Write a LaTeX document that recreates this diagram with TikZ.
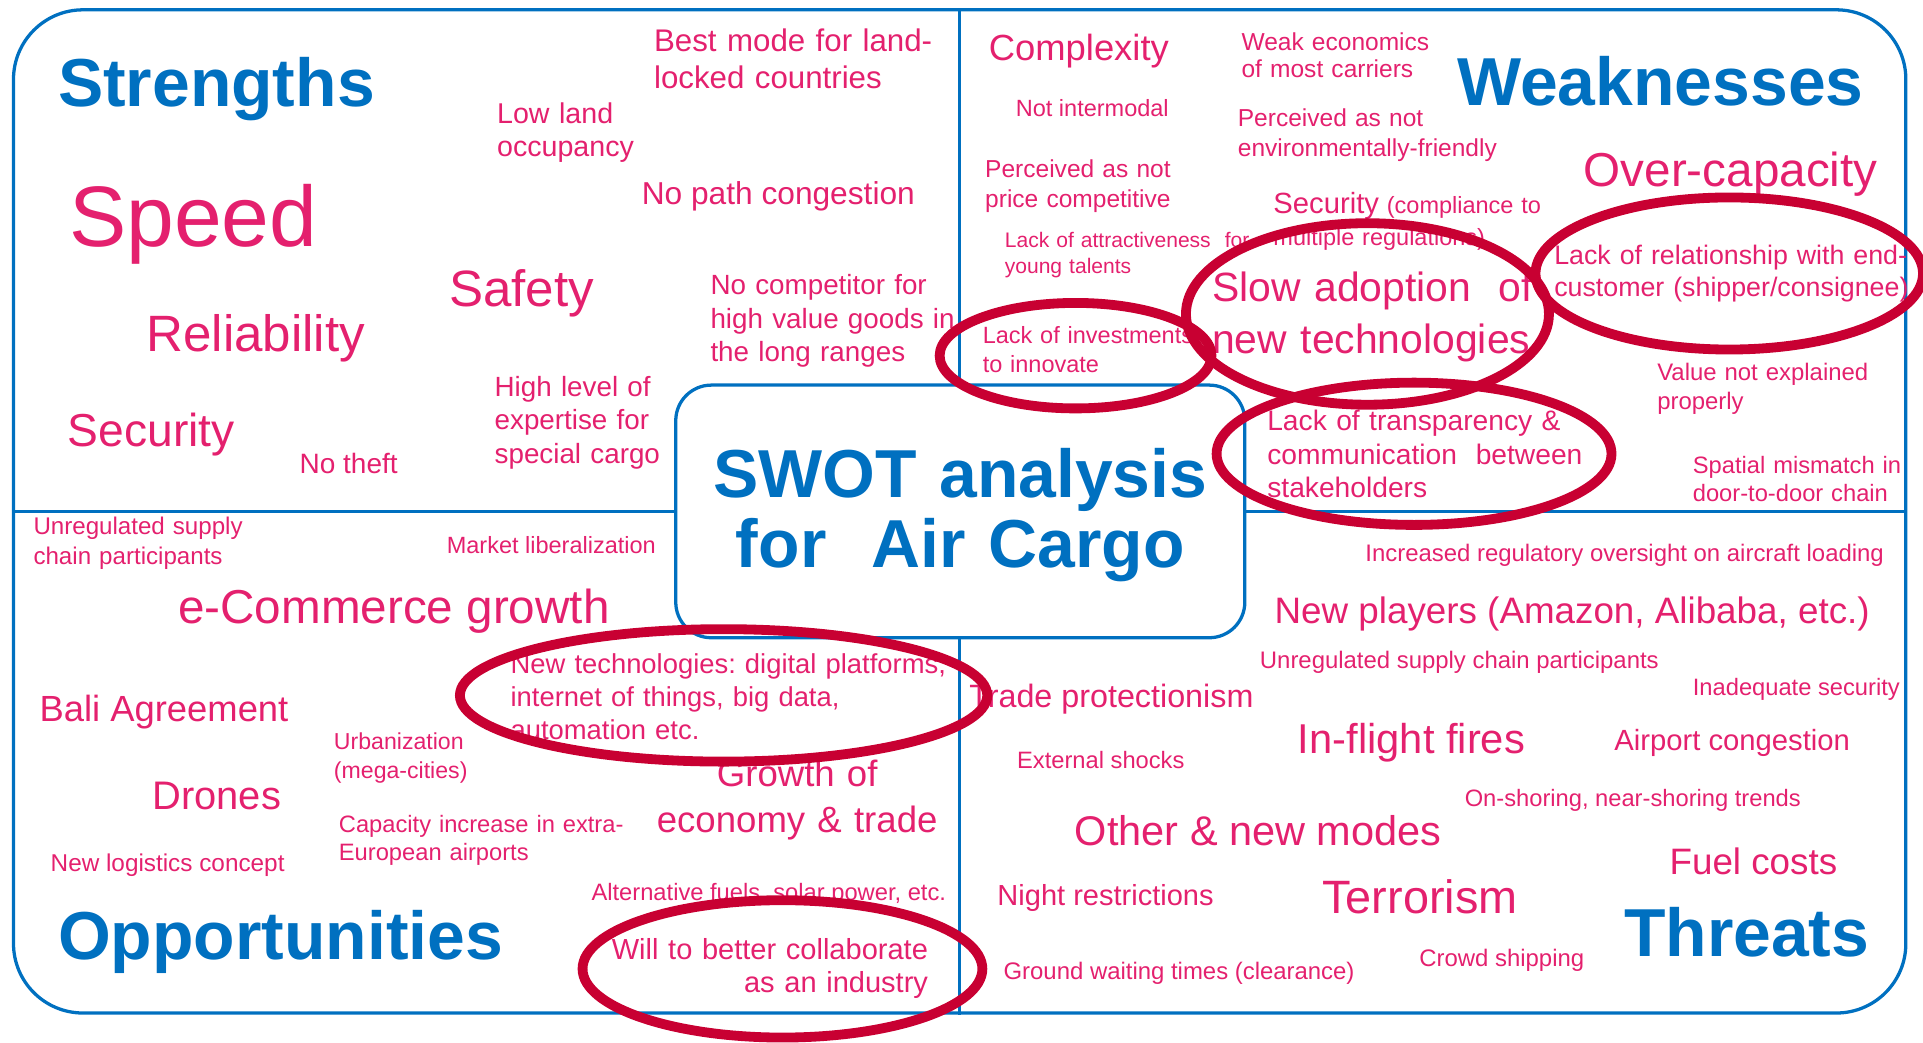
\documentclass[tikz,border=0pt]{standalone}
\usepackage{fontspec}
\setmainfont{Liberation Sans}
\usetikzlibrary{shapes.geometric}
\definecolor{swblue}{RGB}{0,112,192}
\definecolor{swpink}{RGB}{228,32,110}
\definecolor{swred}{RGB}{200,0,50}
\newcommand{\fz}[2]{\fontsize{#1}{#2}\selectfont}
\tikzset{
  pk/.style={text=swpink, inner sep=0pt, anchor=base west},
  pkm/.style={pk, text width=#1, align=left},
  head/.style={text=swblue, inner sep=0pt, anchor=base west, font=\fz{33.2}{36}\bfseries},
  frameline/.style={draw=swblue, line width=1.6pt},
  hl/.style={ellipse, draw=swred, line width=4.8pt, inner sep=0pt},
}
\begin{document}
\begin{tikzpicture}[x=0.6pt,y=-0.6pt]
\useasboundingbox (0,0) rectangle (1568,850);
% frame and centre box
\node (frame) [frameline, rounded corners=34pt, minimum width=925.8pt, minimum height=490.8pt, inner sep=0pt] at (782.5,417) {};
\draw[frameline] (frame.north) -- (frame.south);
\draw[frameline] (frame.west) -- (frame.east);
\node (box) [frameline, fill=white, rounded corners=17.4pt, minimum width=278.4pt, minimum height=123.6pt, inner sep=0pt] at (783,417) {};
\node (title) [text=swblue, inner sep=0pt, anchor=base, text width=280pt, align=center, font=\fz{33.2}{34.2}\bfseries] at (783,406) {SWOT analysis\\for\ \ Air Cargo};

% Strengths
\node (s1) [head] at (47,87) {Strengths};
\node (s2) [pk, font=\fz{42}{46}] at (56,201) {Speed};
\node (s3) [pk, font=\fz{25}{28}] at (119,287) {Reliability};
\node (s4) [pk, font=\fz{22.6}{25}] at (55,364) {Security};
\node (s5) [pk, font=\fz{13.7}{16}] at (244,386) {No theft};
\node (s6) [pk, font=\fz{25}{28}] at (366,250) {Safety};
\node (s7) [pkm=100pt, font=\fz{14}{16.2}] at (405,101) {Low land\\occupancy};
\node (s8) [pkm=160pt, font=\fz{15.3}{18}] at (533,42) {Best mode for land-\\locked countries};
\node (s9) [pk, font=\fz{15.5}{18}] at (523,167) {No path congestion};
\node (s10) [pkm=160pt, font=\fz{13.6}{16.5}] at (579,240) {No competitor for\\high value goods in\\the long ranges};
\node (s11) [pkm=100pt, font=\fz{13.6}{16.5}] at (403,323) {High level of\\expertise for\\special cargo};

% Weaknesses
\node (w1) [head] at (1188,86) {Weaknesses};
\node (w2) [pk, font=\fz{17.8}{20}] at (806,49) {Complexity};
\node (w3) [pkm=120pt, font=\fz{12}{13.2}] at (1012,41) {Weak economics\\of most carriers};
\node (w4) [pk, font=\fz{11.5}{14}] at (828,95) {Not intermodal};
\node (w5) [pkm=140pt, font=\fz{12}{15}] at (1009,103) {Perceived as not\\environmentally-friendly};
\node (w6) [pkm=120pt, font=\fz{12}{14.4}] at (803,145) {Perceived as not\\price competitive};
\node (w7) [pk, font=\fz{23.3}{26}] at (1291,152) {Over-capacity};
\node (w8) [pkm=160pt, font=\fz{11.5}{15.6}] at (1038,174) {{\fz{14.3}{15.6}Security} (compliance to\\multiple regulations)};
\node (w9) [pkm=140pt, font=\fz{10.3}{12.6}] at (819,202) {Lack of attractiveness\ \ for\\young talents};
\node (w10) [pkm=120pt, font=\fz{11.5}{14.4}] at (801,280) {Lack of investments\\to innovate};
\node (w11) [pkm=170pt, font=\fz{20}{25.2}] at (988,246) {Slow adoption\ \ of\\new technologies};
\node (w12) [pkm=190pt, font=\fz{13.1}{15.6}] at (1267,216) {Lack of relationship with end-\\customer (shipper/consignee)};
\node (w13) [pkm=120pt, font=\fz{11.7}{14.4}] at (1351,310) {Value not explained\\properly};
\node (w14) [pkm=170pt, font=\fz{13.8}{16.5}] at (1033,351) {Lack of transparency \&\\communication\ \ between\\stakeholders};
\node (w15) [pkm=120pt, font=\fz{11.6}{13.8}] at (1380,386) {Spatial mismatch in\\door-to-door chain};

% Opportunities
\node (o1) [head] at (47,782) {Opportunities};
\node (o2) [pkm=120pt, font=\fz{11.8}{14.4}] at (27,436) {Unregulated supply\\chain participants};
\node (o3) [pk, font=\fz{11.5}{14}] at (364,451) {Market liberalization};
\node (o4) [pk, font=\fz{23.3}{26}] at (145,508) {e-Commerce growth};
\node (o5) [pk, font=\fz{17.8}{20}] at (32,588) {Bali Agreement};
\node (o6) [pkm=100pt, font=\fz{11.3}{14.4}] at (272,611) {Urbanization\\(mega-cities)};
\node (o7) [pkm=230pt, font=\fz{13.4}{16.2}] at (416,549) {New technologies:\ digital\ platforms,\\internet\ of things,\ big data,\\automation etc.};
\node (o8) [text=swpink, inner sep=0pt, anchor=base, text width=150pt, align=center, font=\fz{17.9}{22.8}] at (650,641) {Growth of\\economy \& trade};
\node (o9) [pk, font=\fz{19.5}{22}] at (124,660) {Drones};
\node (o10) [pkm=160pt, font=\fz{11.6}{13.5}] at (276,679) {Capacity increase in extra-\\European airports};
\node (o11) [pk, font=\fz{11.9}{14}] at (41,711) {New logistics concept};
\node (o12) [pk, font=\fz{11.6}{14}] at (482,734) {Alternative fuels, solar power, etc.};
\node (o13) [text=swpink, inner sep=0pt, anchor=base east, text width=170pt, align=right, font=\fz{14.2}{16.2}] at (757,782) {Will to better collaborate\\as an industry};

% Threats
\node (t1) [head] at (1324,780) {Threats};
\node (t2) [pk, font=\fz{11.7}{14}] at (1113,458) {Increased regulatory oversight on aircraft loading};
\node (t3) [pk, font=\fz{18}{20}] at (1039,508) {New players (Amazon, Alibaba, etc.)};
\node (t4) [pk, font=\fz{11.7}{14}] at (1027,545) {Unregulated supply chain participants};
\node (t5) [pk, font=\fz{11.6}{14}] at (1380,567) {Inadequate security};
\node (t6) [pk, font=\fz{15.8}{18}] at (790,577) {Trade protectionism};
\node (t7) [pk, font=\fz{11.6}{14}] at (829,627) {External shocks};
\node (t8) [pk, font=\fz{20.4}{23}] at (1058,614) {In-flight fires};
\node (t9) [pk, font=\fz{14.3}{16}] at (1316,612) {Airport congestion};
\node (t10) [pk, font=\fz{11.6}{14}] at (1194,658) {On-shoring, near-shoring trends};
\node (t11) [pk, font=\fz{20.3}{23}] at (876,689) {Other \& new modes};
\node (t12) [pk, font=\fz{18}{20}] at (1361,713) {Fuel costs};
\node (t13) [pk, font=\fz{14.2}{16}] at (813,738) {Night restrictions};
\node (t14) [pk, font=\fz{22.9}{25}] at (1078,745) {Terrorism};
\node (t15) [pk, font=\fz{11.7}{14}] at (1157,788) {Crowd shipping};
\node (t16) [pk, font=\fz{11.7}{14}] at (818,799) {Ground waiting times (clearance)};

% highlight ellipses
\node (e1) [hl, minimum width=133pt, minimum height=51.6pt] at (877,290) {};
\node (e2) [hl, minimum width=177.6pt, minimum height=88.8pt] at (1115,256) {};
\node (e3) [hl, minimum width=189.6pt, minimum height=74.4pt] at (1410,223) {};
\node (e4) [hl, minimum width=193.2pt, minimum height=69.6pt] at (1153,370) {};
\node (e5) [hl, minimum width=258pt, minimum height=64.8pt] at (590,567) {};
\node (e6) [hl, minimum width=195.6pt, minimum height=67.2pt] at (638,790) {};
\end{tikzpicture}
\end{document}
